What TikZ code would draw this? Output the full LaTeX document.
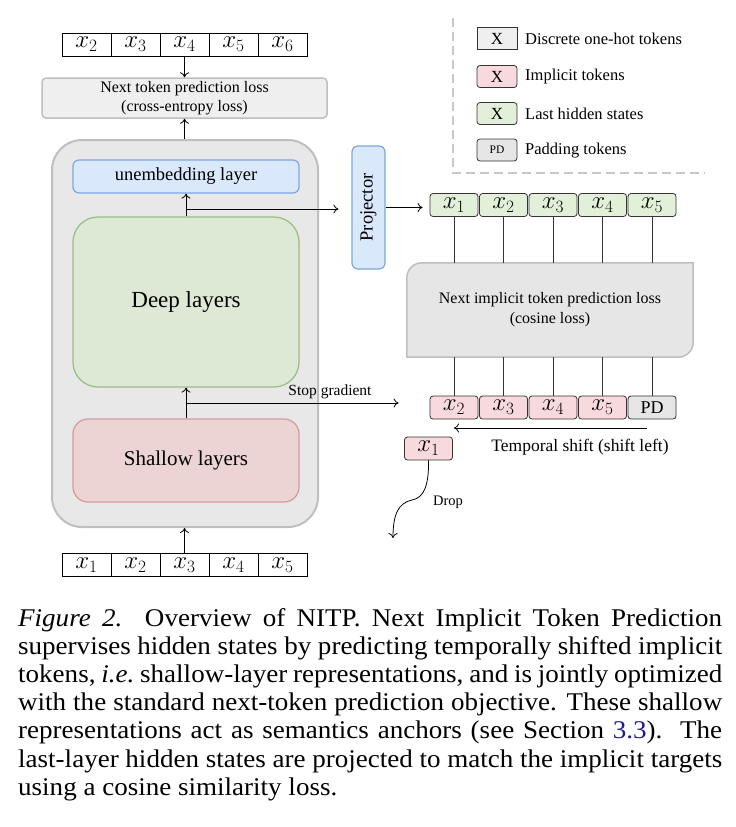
\documentclass[tikz,border=0pt]{standalone}
\usepackage{fontspec}
\setmainfont{Liberation Serif}
\newfontfamily\capfont{Liberation Serif}[FakeStretch=1.06]
\usepackage{graphicx}
\usepackage{xcolor}
\usepackage{tikz}
\usetikzlibrary{arrows.meta}

\definecolor{llmgray}{HTML}{E8E8E8}
\definecolor{llmedge}{HTML}{BFBFBF}
\definecolor{lossgray}{HTML}{EFEFEF}
\definecolor{cosgray}{HTML}{E6E6E6}
\definecolor{blfill}{HTML}{DAE8FC}
\definecolor{bledge}{HTML}{7EA6E0}
\definecolor{grfill}{HTML}{DDE8D5}
\definecolor{gredge}{HTML}{97BD84}
\definecolor{rdfill}{HTML}{ECD4D4}
\definecolor{rdedge}{HTML}{D49A9A}
\definecolor{hidgreen}{HTML}{E2F0D9}
\definecolor{imppink}{HTML}{F8D9DD}
\definecolor{padgray}{HTML}{E6E6E6}
\definecolor{dashgray}{HTML}{C8C8C8}
\definecolor{linkblue}{HTML}{1A1A8C}

\tikzset{
  tok/.style={draw=black, fill=white, line width=0.8pt, minimum width=49pt, minimum height=23pt, inner sep=0pt, font=\fontsize{24}{24}\selectfont},
  roundtok/.style={draw=black!80, line width=0.8pt, rounded corners=3pt, minimum width=48pt, minimum height=23pt, inner sep=0pt, font=\fontsize{24}{24}\selectfont},
  hidtok/.style={roundtok, fill=hidgreen},
  imptok/.style={roundtok, fill=imppink},
  padtok/.style={roundtok, fill=padgray, font=\fontsize{18}{18}\selectfont},
  lossbox/.style={draw=llmedge, fill=lossgray, line width=1.5pt, rounded corners=4pt, align=center, font=\fontsize{16}{18.5}\selectfont},
  layerbox/.style={line width=1.2pt, align=center},
  arr/.style={-{To[length=5pt,width=9pt]}, line width=0.8pt},
  link/.style={line width=0.8pt, draw=black!80},
  lbl/.style={font=\fontsize{15.5}{18}\selectfont, inner sep=0pt},
  lgbox/.style={draw=black!80, line width=0.8pt, minimum width=40pt, minimum height=22pt, inner sep=0pt, font=\fontsize{17}{17}\selectfont},
  lgtext/.style={anchor=west, font=\fontsize{16.5}{18}\selectfont, inner sep=0pt},
}

\begin{document}
\begin{tikzpicture}[x=1pt,y=-1pt]
  \useasboundingbox (0,0) rectangle (736,827);

  % legend
  \draw[dashgray, line width=2.5pt, dash pattern=on 9pt off 5pt] (453,18) -- (453,173) -- (705,173);
  \node[lgbox, fill=lossgray] (lg1) at (497,38.5) {X};
  \node[lgtext] (lg1t) at (525,39) {Discrete one-hot tokens};
  \node[lgbox, fill=imppink, rounded corners=3pt] (lg2) at (497,76.5) {X};
  \node[lgtext] (lg2t) at (525,77) {Implicit tokens};
  \node[lgbox, fill=hidgreen, rounded corners=3pt] (lg3) at (497,113.5) {X};
  \node[lgtext] (lg3t) at (525,114) {Last hidden states};
  \node[lgbox, fill=padgray, rounded corners=3pt, font=\fontsize{11.5}{11.5}\selectfont] (lg4) at (497,150) {PD};
  \node[lgtext] (lg4t) at (525,151) {Padding tokens};

  % backbone
  \node[draw=llmedge, fill=llmgray, line width=2pt, rounded corners=30pt, minimum width=266pt, minimum height=387pt] (llm) at (185,333.5) {};
  \node[layerbox, draw=bledge, fill=blfill, rounded corners=6pt, minimum width=226pt, minimum height=33pt, font=\fontsize{18.5}{20}\selectfont] (unemb) at (186,176.5) {unembedding layer};
  \node[layerbox, draw=gredge, fill=grfill, rounded corners=25pt, minimum width=226pt, minimum height=170pt, font=\fontsize{23}{26}\selectfont] (deep) at (186,302) {Deep layers};
  \node[layerbox, draw=rdedge, fill=rdfill, rounded corners=15pt, minimum width=226pt, minimum height=83pt, font=\fontsize{21}{24}\selectfont] (shallow) at (186,460.5) {Shallow layers};

  % next token prediction
  \node[lossbox, minimum width=285pt, minimum height=40pt] (ntp) at (184.5,98) {Next token prediction loss\\(cross-entropy loss)};
  \node[tok] (t1) at (86.5,44.5) {$x_2$};
  \node[tok] (t2) at (135.5,44.5) {$x_3$};
  \node[tok] (t3) at (184.5,44.5) {$x_4$};
  \node[tok] (t4) at (233.5,44.5) {$x_5$};
  \node[tok] (t5) at (282.5,44.5) {$x_6$};

  % input tokens
  \node[tok] (b1) at (86.5,565) {$x_1$};
  \node[tok] (b2) at (135.5,565) {$x_2$};
  \node[tok] (b3) at (184.5,565) {$x_3$};
  \node[tok] (b4) at (233.5,565) {$x_4$};
  \node[tok] (b5) at (282.5,565) {$x_5$};

  % projector and hidden states
  \node[draw=bledge, fill=blfill, line width=1.2pt, rounded corners=6pt, minimum width=33pt, minimum height=123pt, inner sep=0pt, font=\fontsize{18.5}{18.5}\selectfont] (proj) at (368.5,207.5) {\rotatebox{90}{Projector}};
  \node[hidtok] (h1) at (454,205) {$x_1$};
  \node[hidtok] (h2) at (503.5,205) {$x_2$};
  \node[hidtok] (h3) at (553,205) {$x_3$};
  \node[hidtok] (h4) at (602.5,205) {$x_4$};
  \node[hidtok] (h5) at (652,205) {$x_5$};

  % cosine loss
  \node[minimum width=286pt, minimum height=94pt] (cosloss) at (550,310) {};
  \fill[cosgray] (cosloss.south west) [rounded corners=15pt] -- (cosloss.north west) [sharp corners] -- (cosloss.north east) [rounded corners=15pt] -- (cosloss.south east) [sharp corners] -- cycle;
  \draw[llmedge, line width=1.5pt] (cosloss.south west) [rounded corners=15pt] -- (cosloss.north west) [sharp corners] -- (cosloss.north east) [rounded corners=15pt] -- (cosloss.south east) [sharp corners] -- cycle;
  \node[align=center, font=\fontsize{16}{20}\selectfont] (coslbl) at (cosloss.center) {Next implicit token prediction loss\\(cosine loss)};

  % implicit targets
  \node[imptok] (p1) at (454,407.5) {$x_2$};
  \node[imptok] (p2) at (503.5,407.5) {$x_3$};
  \node[imptok] (p3) at (553,407.5) {$x_4$};
  \node[imptok] (p4) at (602.5,407.5) {$x_5$};
  \node[padtok] (p5) at (652,407.5) {PD};
  \node[imptok] (x1drop) at (428.5,448.5) {$x_1$};

  % connectors
  \draw[arr] (t3.south) -- (ntp.north);
  \draw[arr] (llm.north -| ntp.south) -- (ntp.south);
  \draw[arr] (b3.north) -- (b3.north |- llm.south);
  \draw[arr] (deep.north) -- (unemb.south);
  \draw[arr] (shallow.north) -- (deep.south);
  \coordinate (hsplit) at (186,209);
  \draw[arr, shorten >=13pt] (hsplit) -- (hsplit -| proj.west);
  \coordinate (ssplit) at (186,403);
  \draw[arr, shorten >=31pt] (ssplit) -- (ssplit -| p1.west);
  \node[lbl] (stopg) at (330,392) {Stop gradient};
  \draw[arr, shorten >=7pt] (proj.east) -- (proj.east -| h1.west);

  \draw[link] (h1.south) -- (h1.south |- cosloss.north);
  \draw[link] (h2.south) -- (h2.south |- cosloss.north);
  \draw[link] (h3.south) -- (h3.south |- cosloss.north);
  \draw[link] (h4.south) -- (h4.south |- cosloss.north);
  \draw[link] (h5.south) -- (h5.south |- cosloss.north);
  \draw[link] (p1.north) -- (p1.north |- cosloss.south);
  \draw[link] (p2.north) -- (p2.north |- cosloss.south);
  \draw[link] (p3.north) -- (p3.north |- cosloss.south);
  \draw[link] (p4.north) -- (p4.north |- cosloss.south);
  \draw[link] (p5.north) -- (p5.north |- cosloss.south);

  \coordinate (shiftR) at (647,428);
  \coordinate (shiftL) at (454,428);
  \draw[arr] (shiftR) -- (shiftL);
  \node[lbl, font=\fontsize{17.5}{20}\selectfont] (shiftlbl) at (580,447) {Temporal shift (shift left)};

  \coordinate (dropend) at (393,538);
  \draw[arr] (x1drop.south) .. controls (429,485) and (424,498) .. (412,500) .. controls (398,503) and (393,515) .. (dropend);
  \node[lbl, font=\fontsize{14.5}{16}\selectfont] (droplbl) at (448,502) {Drop};

  % caption
  \node[anchor=north west, inner sep=0pt, text width=704pt, align=justify, font=\capfont\fontsize{25.5}{28.2}\selectfont] (caption) at (18,608) {\hyphenpenalty=10000
    \textit{Figure 2.}\ \ Overview of NITP. Next Implicit Token Prediction\linebreak
    supervises hidden states by predicting temporally shifted implicit\linebreak
    tokens, \textit{i.e.}\ shallow-layer representations, and is jointly optimized\linebreak
    with the standard next-token prediction objective. These shallow\linebreak
    representations act as semantics anchors (see Section \textcolor{linkblue}{3.3}).\ \ The\linebreak
    last-layer hidden states are projected to match the implicit targets\linebreak
    using a cosine similarity loss.};
\end{tikzpicture}
\end{document}
